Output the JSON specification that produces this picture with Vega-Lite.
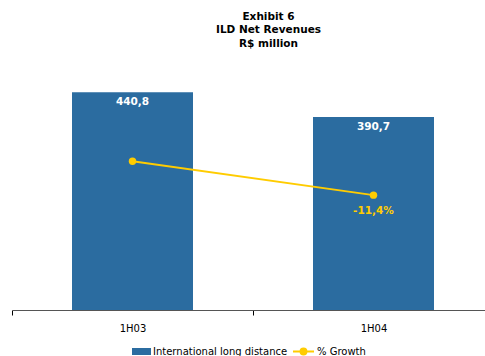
{
  "$schema": "https://vega.github.io/schema/vega-lite/v6.json",
  "autosize": "none",
  "width": 473,
  "height": 247,
  "padding": {"left": 12, "top": 63, "right": 0, "bottom": 46},
  "background": "white",
  "title": {
    "text": ["Exhibit 6", "ILD Net Revenues", "R$ million"],
    "font": "DejaVu Sans",
    "fontSize": 10.5,
    "fontWeight": "bold",
    "lineHeight": 13.5,
    "color": "#000000",
    "anchor": "middle",
    "dx": 20,
    "offset": 14
  },
  "data": {
    "values": [
      {"Period": "1H03", "Revenue": 440.8, "RevLabel": "440,8", "Growth": 0, "GrowthLabel": "", "Series": "International long distance", "GSeries": "% Growth"},
      {"Period": "1H04", "Revenue": 390.7, "RevLabel": "390,7", "Growth": -11.4, "GrowthLabel": "-11,4%", "Series": "International long distance", "GSeries": "% Growth"}
    ]
  },
  "encoding": {
    "x": {
      "field": "Period",
      "type": "nominal",
      "sort": null,
      "scale": {"range": [0, 482], "paddingInner": 0, "paddingOuter": 0},
      "axis": {
        "title": null,
        "labelAngle": 0,
        "labelFont": "DejaVu Sans",
        "labelFontSize": 10,
        "labelColor": "#000000",
        "labelPadding": 8,
        "tickBand": "extent",
        "tickSize": 5,
        "tickColor": "#000000",
        "domainColor": "#555555",
        "domainWidth": 1,
        "grid": false
      }
    }
  },
  "layer": [
    {
      "layer": [
        {
          "mark": {"type": "bar", "size": 121},
          "encoding": {
            "y": {"field": "Revenue", "type": "quantitative", "scale": {"domain": [0, 500]}, "axis": null},
            "color": {
              "field": "Series",
              "type": "nominal",
              "scale": {"range": ["#2B6CA0"]},
              "legend": {
                "title": null,
                "orient": "bottom",
                "direction": "horizontal",
                "symbolType": "M-1,-0.37H1V0.37H-1Z",
                "symbolSize": 361,
                "symbolStrokeWidth": 0,
                "labelFont": "DejaVu Sans",
                "labelFontSize": 10,
                "labelColor": "#000000",
                "labelOffset": 2,
                "offset": 7,
                "padding": 0
              }
            }
          }
        },
        {
          "mark": {"type": "text", "color": "white", "font": "DejaVu Sans", "fontSize": 10.5, "fontWeight": "bold", "baseline": "top", "dy": 5},
          "encoding": {
            "y": {"field": "Revenue", "type": "quantitative", "scale": {"domain": [0, 500]}, "axis": null},
            "text": {"field": "RevLabel"}
          }
        }
      ]
    },
    {
      "layer": [
        {
          "mark": {"type": "line", "strokeWidth": 2},
          "encoding": {
            "y": {"field": "Growth", "type": "quantitative", "scale": {"domain": [-50, 33]}, "axis": null},
            "stroke": {
              "field": "GSeries",
              "type": "nominal",
              "scale": {"range": ["#FFCC00"]},
              "legend": {
                "title": null,
                "orient": "bottom",
                "direction": "horizontal",
                "symbolType": "M-1,0H1M0.28,0A0.28,0.28 0 1,1 -0.28,0A0.28,0.28 0 1,1 0.28,0Z",
                "symbolSize": 441,
                "symbolStrokeWidth": 2,
                "symbolFillColor": "#FFCC00",
                "labelFont": "DejaVu Sans",
                "labelFontSize": 10,
                "labelColor": "#000000",
                "labelOffset": 2,
                "offset": 7,
                "padding": 0
              }
            }
          }
        },
        {
          "mark": {"type": "point", "filled": true, "size": 55, "color": "#FFCC00", "opacity": 1},
          "encoding": {
            "y": {"field": "Growth", "type": "quantitative", "scale": {"domain": [-50, 33]}, "axis": null}
          }
        },
        {
          "mark": {"type": "text", "color": "#FFCC00", "font": "DejaVu Sans", "fontSize": 10.5, "fontWeight": "bold", "baseline": "top", "dy": 11},
          "encoding": {
            "y": {"field": "Growth", "type": "quantitative", "scale": {"domain": [-50, 33]}, "axis": null},
            "text": {"field": "GrowthLabel"}
          }
        }
      ]
    }
  ],
  "resolve": {"scale": {"y": "independent"}, "legend": {"color": "independent", "stroke": "independent"}},
  "config": {
    "view": {"stroke": null},
    "legend": {"layout": {"bottom": {"anchor": "middle", "direction": "horizontal", "center": true, "margin": 4}}}
  }
}
